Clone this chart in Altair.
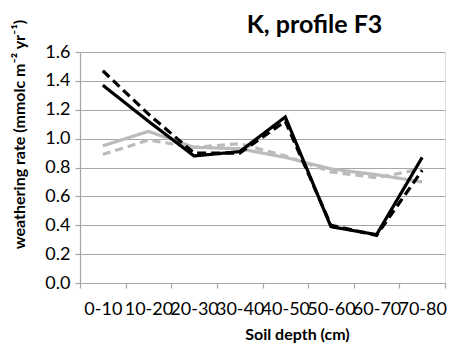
import altair as alt
import pandas as pd

# Soil depth intervals (cm)
depths = ["0-10", "10-20", "20-30", "30-40", "40-50", "50-60", "60-70", "70-80"]

# Weathering rates, mmol_c m-2 yr-1
black_solid = [1.37, 1.12, 0.88, 0.91, 1.15, 0.39, 0.335, 0.87]
black_dashed = [1.47, 1.17, 0.90, 0.90, 1.12, 0.40, 0.33, 0.78]
grey_solid = [0.95, 1.05, 0.94, 0.93, 0.87, 0.79, 0.75, 0.70]
grey_dashed = [0.89, 0.99, 0.94, 0.965, 0.88, 0.77, 0.73, 0.79]

series = [
    ("grey dashed", grey_dashed, "#BBBBBB", [8, 5]),
    ("grey solid", grey_solid, "#BBBBBB", []),
    ("black dashed", black_dashed, "#000000", [9, 5]),
    ("black solid", black_solid, "#000000", []),
]

FONT = "Lato"

y_axis = alt.Axis(
    values=[0, 0.2, 0.4, 0.6, 0.8, 1.0, 1.2, 1.4, 1.6],
    format=".1f",
    title="weathering rate (mmolc m\u207b\u00b2 yr\u207b\u00b9)",
    titleFont=FONT, titleFontSize=16, titleFontWeight="bold", titleColor="#000",
    titleX=-56, titleY=82, titleAngle=-90, titleAlign="center", titleBaseline="alphabetic",
    labelFont=FONT, labelFontSize=18, labelColor="#000", labelPadding=5,
    grid=True, gridColor="#A6A6A6", gridWidth=1.2,
    domainColor="#A6A6A6", domainWidth=1.2,
    tickColor="#A6A6A6", tickSize=5, tickWidth=1.2,
)

x_axis = alt.Axis(
    title="Soil depth (cm)",
    titleFont=FONT, titleFontSize=16, titleFontWeight="bold", titleColor="#000",
    titleX=217, titleY=56, titleAlign="center", titleBaseline="alphabetic",
    labelFont=FONT, labelFontSize=18, labelColor="#000", labelPadding=12,
    labelAngle=0, labelOverlap=False,
    tickBand="extent", grid=False,
    domainColor="#A6A6A6", domainWidth=1.2,
    tickColor="#A6A6A6", tickSize=5, tickWidth=1.2,
)

layers = []
for name, vals, color, dash in series:
    df = pd.DataFrame({"depth": depths, "rate": vals, "series": name})
    layer = alt.Chart(df).mark_line(
        color=color, strokeWidth=3.2, strokeDash=dash if dash else [1, 0]
    ).encode(
        x=alt.X("depth:N", sort=depths, axis=x_axis,
                scale=alt.Scale(paddingInner=0, paddingOuter=0)),
        y=alt.Y("rate:Q", axis=y_axis, scale=alt.Scale(domain=[0, 1.6], nice=False)),
    )
    layers.append(layer)

chart = alt.layer(*layers).properties(
    width=365,
    height=231,
    title=alt.TitleParams(
        "K, profile F3", font=FONT, fontSize=25, fontWeight="bold", color="#000",
        anchor="middle", dx=52, offset=4, dy=23,
    ),
    autosize=alt.AutoSizeParams(type="none"),
    padding={"left": 80, "top": 52, "right": 8, "bottom": 64},
).configure_view(stroke=None).configure(background="white")

chart.save("out.html", embed_options={"renderer": "svg", "actions": False})
